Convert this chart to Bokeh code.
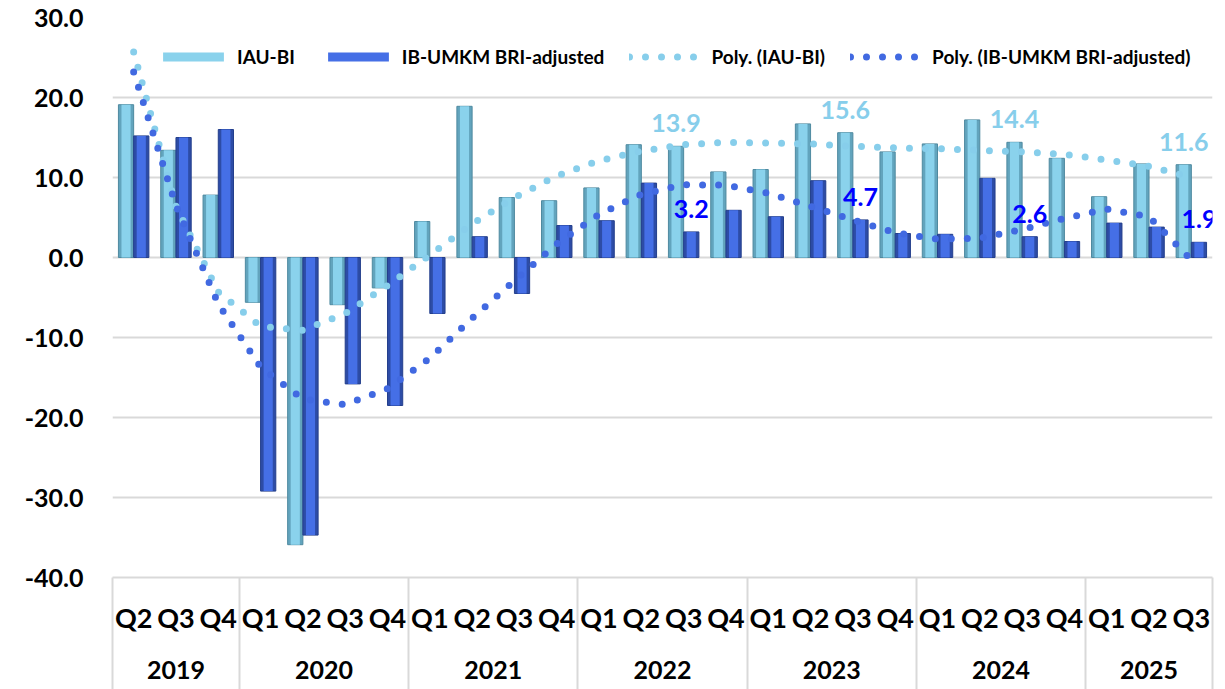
import numpy as np
from bokeh.plotting import figure
from bokeh.models import (Range1d, FixedTicker, LinearAxis, PrintfTickFormatter, Legend,
                          LegendItem, ColumnDataSource, Grid, CustomJSTickFormatter)
from bokeh.core.properties import value
from bokeh.embed import file_html
from bokeh.resources import INLINE

# ---------------- data ----------------
years = ["2019", "2020", "2021", "2022", "2023", "2024", "2025"]
quarters_per_year = [3, 4, 4, 4, 4, 4, 3]
quarters = ["Q2", "Q3", "Q4",
            "Q1", "Q2", "Q3", "Q4",
            "Q1", "Q2", "Q3", "Q4",
            "Q1", "Q2", "Q3", "Q4",
            "Q1", "Q2", "Q3", "Q4",
            "Q1", "Q2", "Q3", "Q4",
            "Q1", "Q2", "Q3"]

iau_bi = [19.1, 13.4, 7.8,
          -5.6, -35.9, -5.9, -3.8,
          4.5, 18.9, 7.5, 7.1,
          8.7, 14.1, 13.9, 10.7,
          11.0, 16.7, 15.6, 13.2,
          14.2, 17.2, 14.4, 12.4,
          7.6, 11.7, 11.6]

ib_umkm = [15.2, 15.0, 16.0,
           -29.2, -34.7, -15.8, -18.5,
           -7.0, 2.6, -4.5, 4.0,
           4.6, 9.3, 3.2, 5.9,
           5.1, 9.6, 4.7, 3.0,
           2.9, 9.9, 2.6, 2.0,
           4.3, 3.8, 1.9]

poly_iau_bi = [25.7, 6.4, -4.3,
               -8.6, -9.1, -7.0, -3.5,
               0.3, 4.2, 7.5, 10.2,
               12.1, 13.3, 14.1, 14.4,
               14.3, 14.2, 13.9, 13.7,
               13.6, 13.4, 13.2, 12.9,
               12.2, 11.4, 10.0]

poly_ib_umkm = [23.2, 6.5, -5.8,
                -13.7, -17.7, -18.4, -16.4,
                -12.6, -7.6, -2.9, 1.7,
                5.4, 7.9, 9.1, 9.05,
                8.05, 6.4, 4.7, 3.1,
                2.3, 2.4, 3.5, 4.9,
                6.05, 5.1, -0.3]

labelled_points = [13, 17, 21, 25]

y_ticks = [-40, -30, -20, -10, 0, 10, 20, 30]

# ---------------- styles ----------------
FONT = "Lato"
IAU_MAIN, IAU_EDGE = "#8ad2ec", "#62a4bd"
IB_MAIN, IB_EDGE = "#456fe6", "#2d4ca6"
TR_LIGHT, TR_DARK = "#87CEEB", "#4169E1"
GRID = "#d9d9d9"

n = len(quarters)
xc = np.arange(n) + 0.5
bw = 0.36
x_iau = xc - bw / 2
x_ib = xc + bw / 2

p = figure(width=1225, height=689, x_range=Range1d(0, n), y_range=Range1d(-40, 30),
           output_backend="svg", toolbar_location=None,
           x_axis_type=None, y_axis_type=None,
           min_border_left=112, min_border_right=13, min_border_top=17, min_border_bottom=112)
p.outline_line_color = None
p.background_fill_color = "white"

# y axis + grid
yticker = FixedTicker(ticks=y_ticks)
yaxis = LinearAxis(ticker=yticker, formatter=PrintfTickFormatter(format="%.1f"),
                   axis_line_color=None, major_tick_line_color=None, minor_tick_line_color=None,
                   major_tick_out=0, major_tick_in=0, major_label_standoff=29,
                   major_label_text_font=FONT, major_label_text_font_style="bold",
                   major_label_text_font_size="25px", major_label_text_color="black")
p.add_layout(yaxis, "left")
p.add_layout(Grid(dimension=1, ticker=yticker, grid_line_color=GRID, grid_line_width=2))

# x axes: quarters (group separators drawn as long minor ticks) and years
bounds = np.concatenate([[0], np.cumsum(quarters_per_year)])
centers = (bounds[:-1] + bounds[1:]) / 2

qaxis = LinearAxis(ticker=FixedTicker(ticks=list(xc), minor_ticks=[float(b) for b in bounds]),
                   formatter=CustomJSTickFormatter(args=dict(labels=quarters),
                                                   code="const i = Math.floor(tick); return (i >= 0 && i < labels.length) ? labels[i] : '';"),
                   axis_line_color=GRID, axis_line_width=2,
                   major_tick_line_color=None, major_tick_out=0, major_tick_in=0,
                   minor_tick_line_color=GRID, minor_tick_line_width=2,
                   minor_tick_out=112, minor_tick_in=0,
                   major_label_standoff=-89,
                   major_label_text_font=FONT, major_label_text_font_style="bold",
                   major_label_text_font_size="27px", major_label_text_color="black")
p.add_layout(qaxis, "below")

yearaxis = LinearAxis(ticker=FixedTicker(ticks=[float(c) for c in centers], minor_ticks=[]),
                      formatter=CustomJSTickFormatter(args=dict(labels=years, centers=[float(c) for c in centers]),
                                                      code="const i = centers.indexOf(tick); return i >= 0 ? labels[i] : '';"),
                      axis_line_color=None, major_tick_line_color=None, minor_tick_line_color=None,
                      major_tick_out=0, major_tick_in=0, major_label_standoff=24,
                      major_label_text_font=FONT, major_label_text_font_style="bold",
                      major_label_text_font_size="25px", major_label_text_color="black")
p.add_layout(yearaxis, "below")

# bars
src = ColumnDataSource(dict(x_iau=x_iau, x_ib=x_ib, iau=iau_bi, ib=ib_umkm))
r_iau_o = p.vbar(x="x_iau", top="iau", bottom=0, width=bw, source=src,
                 fill_color=IAU_EDGE, line_color="#4f8aa0", line_width=1)
r_iau_i = p.vbar(x="x_iau", top="iau", bottom=0, width=bw * 0.6, source=src,
                 fill_color=IAU_MAIN, line_color=None)
r_ib_o = p.vbar(x="x_ib", top="ib", bottom=0, width=bw, source=src,
                fill_color=IB_EDGE, line_color="#243f8c", line_width=1)
r_ib_i = p.vbar(x="x_ib", top="ib", bottom=0, width=bw * 0.6, source=src,
                fill_color=IB_MAIN, line_color=None)

# polynomial trend lines (dotted)
r_t1 = p.line(xc, poly_iau_bi, line_color=TR_LIGHT, line_width=7, line_dash="0 16", line_cap="round")
r_t2 = p.line(xc, poly_ib_umkm, line_color=TR_DARK, line_width=7, line_dash="0 16", line_cap="round")

# data labels
lab1 = ColumnDataSource(dict(x=[x_iau[i] for i in labelled_points],
                             y=[iau_bi[i] for i in labelled_points],
                             t=[f"{iau_bi[i]:.1f}" for i in labelled_points]))
lab2 = ColumnDataSource(dict(x=[x_ib[i] for i in labelled_points],
                             y=[ib_umkm[i] for i in labelled_points],
                             t=[f"{ib_umkm[i]:.1f}" for i in labelled_points]))
p.text(x="x", y="y", text="t", source=lab1, text_font=value(FONT), text_font_style="bold",
       text_font_size="25px", text_color=TR_LIGHT, text_align="center",
       text_baseline="alphabetic", y_offset=-23)
p.text(x="x", y="y", text="t", source=lab2, text_font=value(FONT), text_font_style="bold",
       text_font_size="25px", text_color="#0000FF", text_align="center",
       text_baseline="alphabetic", y_offset=-23)

legend = Legend(items=[
    LegendItem(label="IAU-BI", renderers=[r_iau_i]),
    LegendItem(label="IB-UMKM BRI-adjusted", renderers=[r_ib_i]),
    LegendItem(label="Poly. (IAU-BI)", renderers=[r_t1]),
    LegendItem(label="Poly. (IB-UMKM BRI-adjusted)", renderers=[r_t2]),
], orientation="horizontal", location=(43, 509), padding=0, margin=0, spacing=25,
    glyph_width=76, glyph_height=11, label_standoff=6,
    label_text_font=FONT, label_text_font_style="bold", label_text_font_size="19px",
    label_text_color="black", border_line_color=None, background_fill_alpha=0)
p.add_layout(legend)

open("out.html", "w").write(file_html(p, INLINE))
